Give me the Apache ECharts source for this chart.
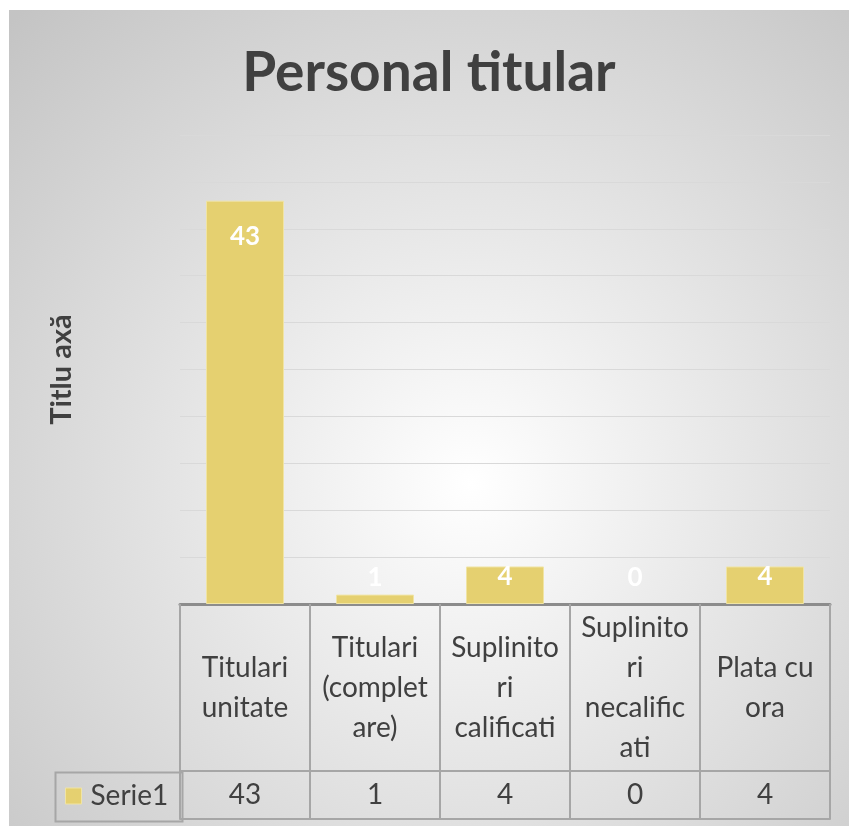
<!DOCTYPE html>
<html>
<head>
<meta charset="utf-8">
<script src="https://cdn.jsdelivr.net/npm/echarts@6/dist/echarts.min.js"></script>
<style>
  html, body { margin: 0; padding: 0; background: #fff; }
  #chart { position: absolute; left: 9px; top: 10px; width: 840px; height: 816px; }
</style>
</head>
<body>
<div id="chart"></div>
<script>
// date din grafic
const categorii = ['Titulari unitate', 'Titulari (completare)', 'Suplinitori calificati', 'Suplinitori necalificati', 'Plata cu ora'];
// etichetele asa cum sunt rupte in tabel
const etichete = ['Titulari\nunitate', 'Titulari\n(complet\nare)', 'Suplinito\nri\ncalificati', 'Suplinito\nri\nnecalific\nati', 'Plata cu\nora'];
const serie1 = [43, 1, 4, 0, 4];
const numeSerie = 'Serie1';

const culoareText = '#404040';
const culoareLinie = '#a6a6a6';
const font = 'Lato, "Open Sans", sans-serif';

// eticheta de valoare: in interiorul barei sau deasupra pentru bare mici
function etichetaBara(v) {
    if (v >= 10) return { position: 'insideTop', distance: 23 };
    if (v >= 3) return { position: 'insideTop', distance: -3 };
    return { position: 'top', distance: 13 - v * 9.4 };
}

const chart = echarts.init(document.getElementById('chart'));
chart.setOption({
    backgroundColor: {
        type: 'radial', x: 0.55, y: 0.58, r: 0.8,
        colorStops: [{ offset: 0, color: '#ffffff' }, { offset: 1, color: '#c4c4c4' }]
    },
    title: {
        text: 'Personal titular',
        left: 'center',
        top: 31,
        padding: [5, 0, 5, 20],
        textStyle: { fontFamily: font, fontSize: 55, fontWeight: 'bold', color: culoareText }
    },
    legend: {
        data: [numeSerie],
        left: 56,
        top: 772,
        padding: 0,
        icon: 'rect',
        itemWidth: 16,
        itemHeight: 16,
        itemStyle: { borderColor: '#f0e4a4', borderWidth: 1 },
        textStyle: { fontFamily: font, fontSize: 28, color: culoareText, padding: [0, 0, 0, 4] }
    },
    grid: { left: 171, right: 19, top: 125, bottom: 222, containLabel: false },
    xAxis: [{
        type: 'category',
        data: categorii,
        position: 'bottom',
        axisLine: { show: true, lineStyle: { color: '#8c8c8c', width: 3 } },
        axisTick: { show: true, interval: 0, length: 215, lineStyle: { color: culoareLinie, width: 2 } },
        axisLabel: {
            interval: 0,
            margin: 84,
            verticalAlign: 'middle',
            lineHeight: 40,
            fontFamily: font,
            fontSize: 28,
            color: culoareText,
            formatter: (v, i) => etichete[i]
        }
    }, {
        type: 'category',
        data: categorii,
        position: 'bottom',
        offset: 167,
        axisLine: { show: true, lineStyle: { color: culoareLinie, width: 2 } },
        axisTick: { show: false },
        axisLabel: {
            interval: 0,
            margin: 24,
            verticalAlign: 'middle',
            fontFamily: font,
            fontSize: 28,
            color: culoareText,
            formatter: (v, i) => String(serie1[i])
        }
    }, {
        type: 'category',
        data: categorii,
        position: 'bottom',
        offset: 215,
        axisLine: { show: true, lineStyle: { color: culoareLinie, width: 2 } },
        axisTick: { show: false },
        axisLabel: { show: false }
    }],
    yAxis: {
        type: 'value',
        min: 0,
        max: 50,
        interval: 5,
        name: 'Titlu axă',
        nameLocation: 'middle',
        nameGap: 104,
        nameTextStyle: { fontFamily: font, fontSize: 29, fontWeight: 'bold', color: culoareText },
        axisLine: { show: false },
        axisTick: { show: false },
        axisLabel: { show: false },
        splitLine: { lineStyle: { color: '#d9d9d9', width: 1 } }
    },
    graphic: [{
        type: 'rect',
        left: 44,
        top: 760,
        shape: { width: 127, height: 49 },
        style: { fill: 'none', stroke: culoareLinie, lineWidth: 2 }
    }],
    series: [{
        name: numeSerie,
        type: 'bar',
        barWidth: '60%',
        itemStyle: { color: '#e5d070', borderColor: '#f0e4a4', borderWidth: 1 },
        label: { show: true, color: '#ffffff', fontFamily: font, fontWeight: 'bold', fontSize: 26 },
        data: serie1.map(v => ({
            value: v,
            label: etichetaBara(v),
            itemStyle: v === 0 ? { borderWidth: 0 } : undefined
        }))
    }]
});
</script>
</body>
</html>
